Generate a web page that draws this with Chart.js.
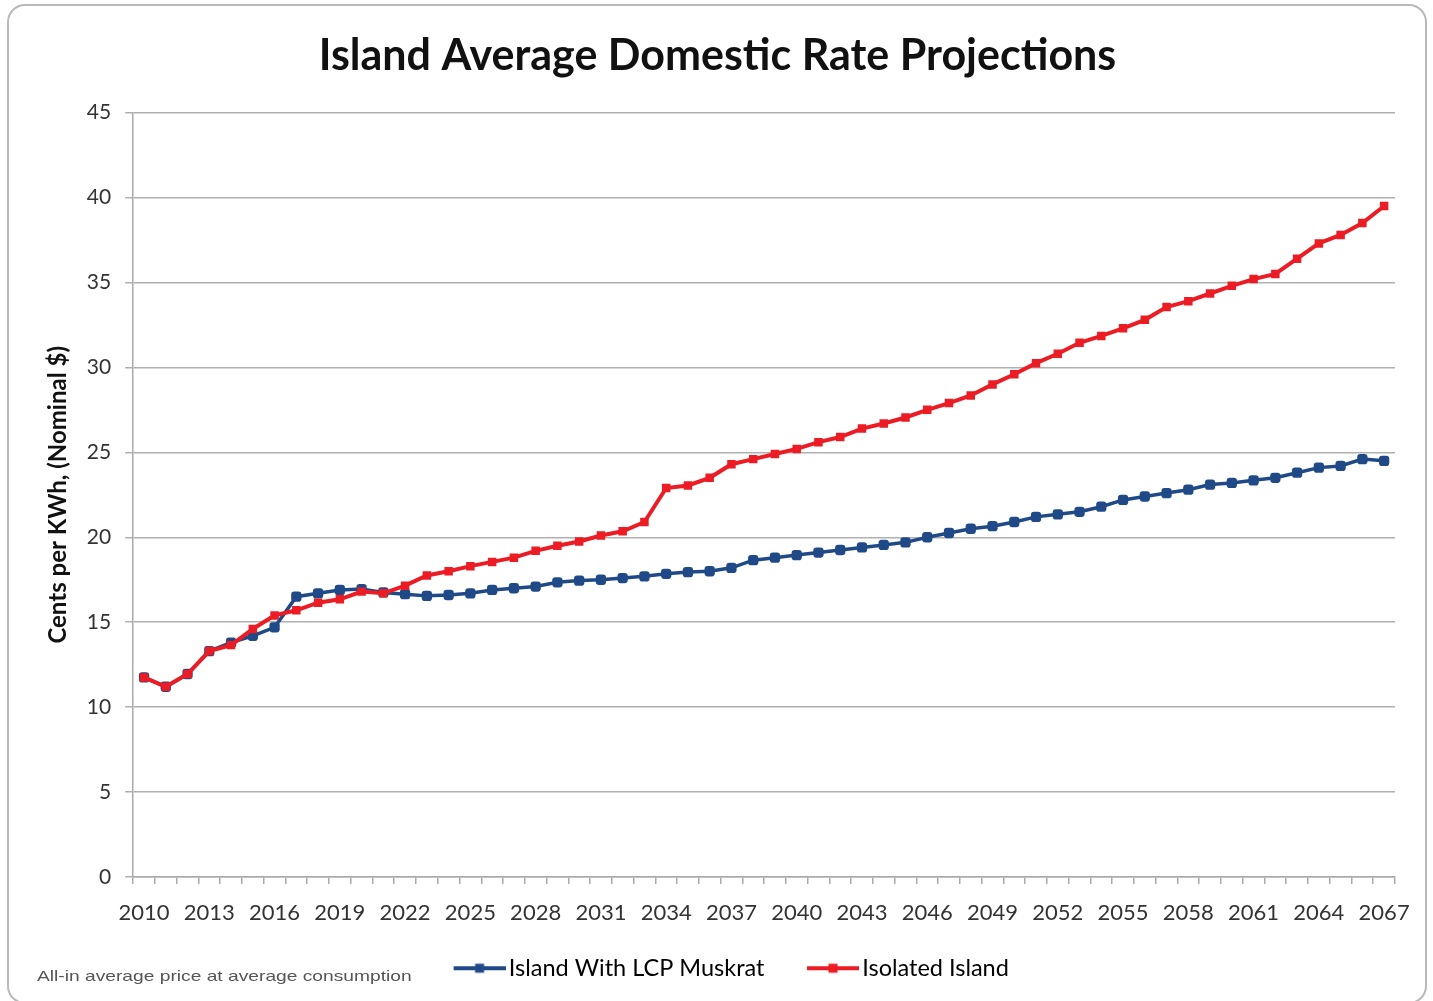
<!DOCTYPE html>
<html>
<head>
<meta charset="utf-8">
<script src="https://cdn.jsdelivr.net/npm/chart.js@4.4.1/dist/chart.umd.min.js"></script>
<style>
  html, body { margin: 0; padding: 0; background: #fff; }
  #wrap { position: relative; width: 1433px; height: 1001px; }
  #frame {
    position: absolute; left: 7px; top: 4px; width: 1420px; height: 1000px;
    border: 2px solid #b9b9b9; border-radius: 18px; box-sizing: border-box;
    pointer-events: none;
  }
</style>
</head>
<body>
<div id="wrap">
  <canvas id="rateChart" width="1433" height="1001"></canvas>
  <div id="frame"></div>
</div>
<script>
var years = [];
for (var y = 2010; y <= 2067; y++) years.push(String(y));

var muskrat = [
  11.75, 11.2, 11.95, 13.3, 13.8, 14.2, 14.7, 16.5, 16.7, 16.9,
  16.95, 16.75, 16.65, 16.55, 16.6, 16.7, 16.9, 17.0, 17.1, 17.35,
  17.45, 17.5, 17.6, 17.7, 17.85, 17.95, 18.0, 18.2, 18.65, 18.8,
  18.95, 19.1, 19.25, 19.4, 19.55, 19.7, 20.0, 20.25, 20.5, 20.65,
  20.9, 21.2, 21.35, 21.5, 21.8, 22.2, 22.4, 22.6, 22.8, 23.1,
  23.2, 23.35, 23.5, 23.8, 24.1, 24.2, 24.6, 24.5
];

var isolated = [
  11.75, 11.2, 11.95, 13.3, 13.65, 14.6, 15.4, 15.7, 16.15, 16.35,
  16.8, 16.7, 17.15, 17.75, 18.0, 18.3, 18.55, 18.8, 19.2, 19.5,
  19.75, 20.1, 20.35, 20.9, 22.9, 23.05, 23.5, 24.3, 24.6, 24.9,
  25.2, 25.6, 25.9, 26.4, 26.7, 27.05, 27.5, 27.9, 28.35, 29.0,
  29.6, 30.25, 30.8, 31.45, 31.85, 32.3, 32.8, 33.55, 33.9, 34.35,
  34.8, 35.2, 35.5, 36.4, 37.3, 37.8, 38.5, 39.5
];

var BLUE = '#1f4a87';
var RED = '#ec1c24';

// legend swatch: line with a marker, kept in the right part of the image
// so it sits just before the label text
function swatch(color) {
  var c = document.createElement('canvas');
  c.width = 88; c.height = 12;
  var g = c.getContext('2d');
  g.strokeStyle = color; g.lineWidth = 4;
  g.beginPath(); g.moveTo(36, 6); g.lineTo(88, 6); g.stroke();
  g.fillStyle = color;
  g.fillRect(57.5, 1.5, 9, 9);
  return c;
}

var footnote = {
  id: 'footnote',
  afterDraw: function(chart) {
    var ctx = chart.ctx;
    ctx.save();
    ctx.translate(37, 977);
    ctx.scale(1.28, 1);
    ctx.font = '15px "Liberation Sans"';
    ctx.fillStyle = '#555';
    ctx.textBaseline = 'middle';
    ctx.fillText('All-in average price at average consumption', 0, 0);
    ctx.restore();
  }
};

var ctx = document.getElementById('rateChart').getContext('2d');
var rateChart = new Chart(ctx, {
  type: 'line',
  data: {
    labels: years,
    datasets: [{
      label: 'Island With LCP Muskrat',
      data: muskrat,
      borderColor: BLUE,
      backgroundColor: BLUE,
      borderWidth: 3.5,
      pointStyle: 'rectRounded',
      pointRadius: 6,
      pointBorderWidth: 0,
      order: 1
    }, {
      label: 'Isolated Island',
      data: isolated,
      borderColor: RED,
      backgroundColor: RED,
      borderWidth: 4,
      pointStyle: 'rect',
      pointRadius: 6,
      pointBorderWidth: 0,
      order: 0
    }]
  },
  plugins: [footnote],
  options: {
    responsive: false,
    animation: false,
    layout: { padding: { left: 40, right: 38, top: 0, bottom: 11 } },
    plugins: {
      title: {
        display: true,
        text: 'Island Average Domestic Rate Projections',
        color: '#111',
        font: { family: 'Lato', size: 43, weight: 'bold' },
        padding: { top: 30, bottom: 31 }
      },
      legend: {
        position: 'bottom',
        labels: {
          usePointStyle: true,
          pointStyleWidth: 71,
          padding: 15,
          color: '#222',
          font: { family: 'Lato', size: 23.5 },
          generateLabels: function(chart) {
            return [
              { text: 'Island With LCP Muskrat', pointStyle: swatch(BLUE), fillStyle: BLUE, strokeStyle: BLUE, lineWidth: 0, datasetIndex: 0 },
              { text: 'Isolated Island', pointStyle: swatch(RED), fillStyle: RED, strokeStyle: RED, lineWidth: 0, datasetIndex: 1 }
            ];
          }
        }
      },
      tooltip: { enabled: false }
    },
    scales: {
      x: {
        offset: true,
        grid: { offset: true, drawOnChartArea: false, drawTicks: true, tickLength: 7, color: '#aaa', lineWidth: 1.5 },
        border: { color: '#aaa', width: 1.5 },
        ticks: {
          autoSkip: false,
          maxRotation: 0,
          padding: 15,
          color: '#333',
          font: { family: 'Lato', size: 22, lineHeight: 1.25 },
          callback: function(v, i) { return i % 3 === 0 ? this.getLabelForValue(v) : ''; }
        }
      },
      y: {
        min: 0,
        max: 45,
        grid: { color: '#b0b0b0', lineWidth: 1.5, tickLength: 8 },
        border: { color: '#aaa', width: 1.5 },
        ticks: {
          stepSize: 5,
          padding: 14,
          color: '#333',
          font: { family: 'Lato', size: 21 }
        },
        title: {
          display: true,
          text: 'Cents per KWh, (Nominal $)',
          color: '#111',
          font: { family: 'Lato', size: 24, weight: 'bold' },
          padding: { top: 4, bottom: 0 }
        }
      }
    }
  }
});
</script>
</body>
</html>
